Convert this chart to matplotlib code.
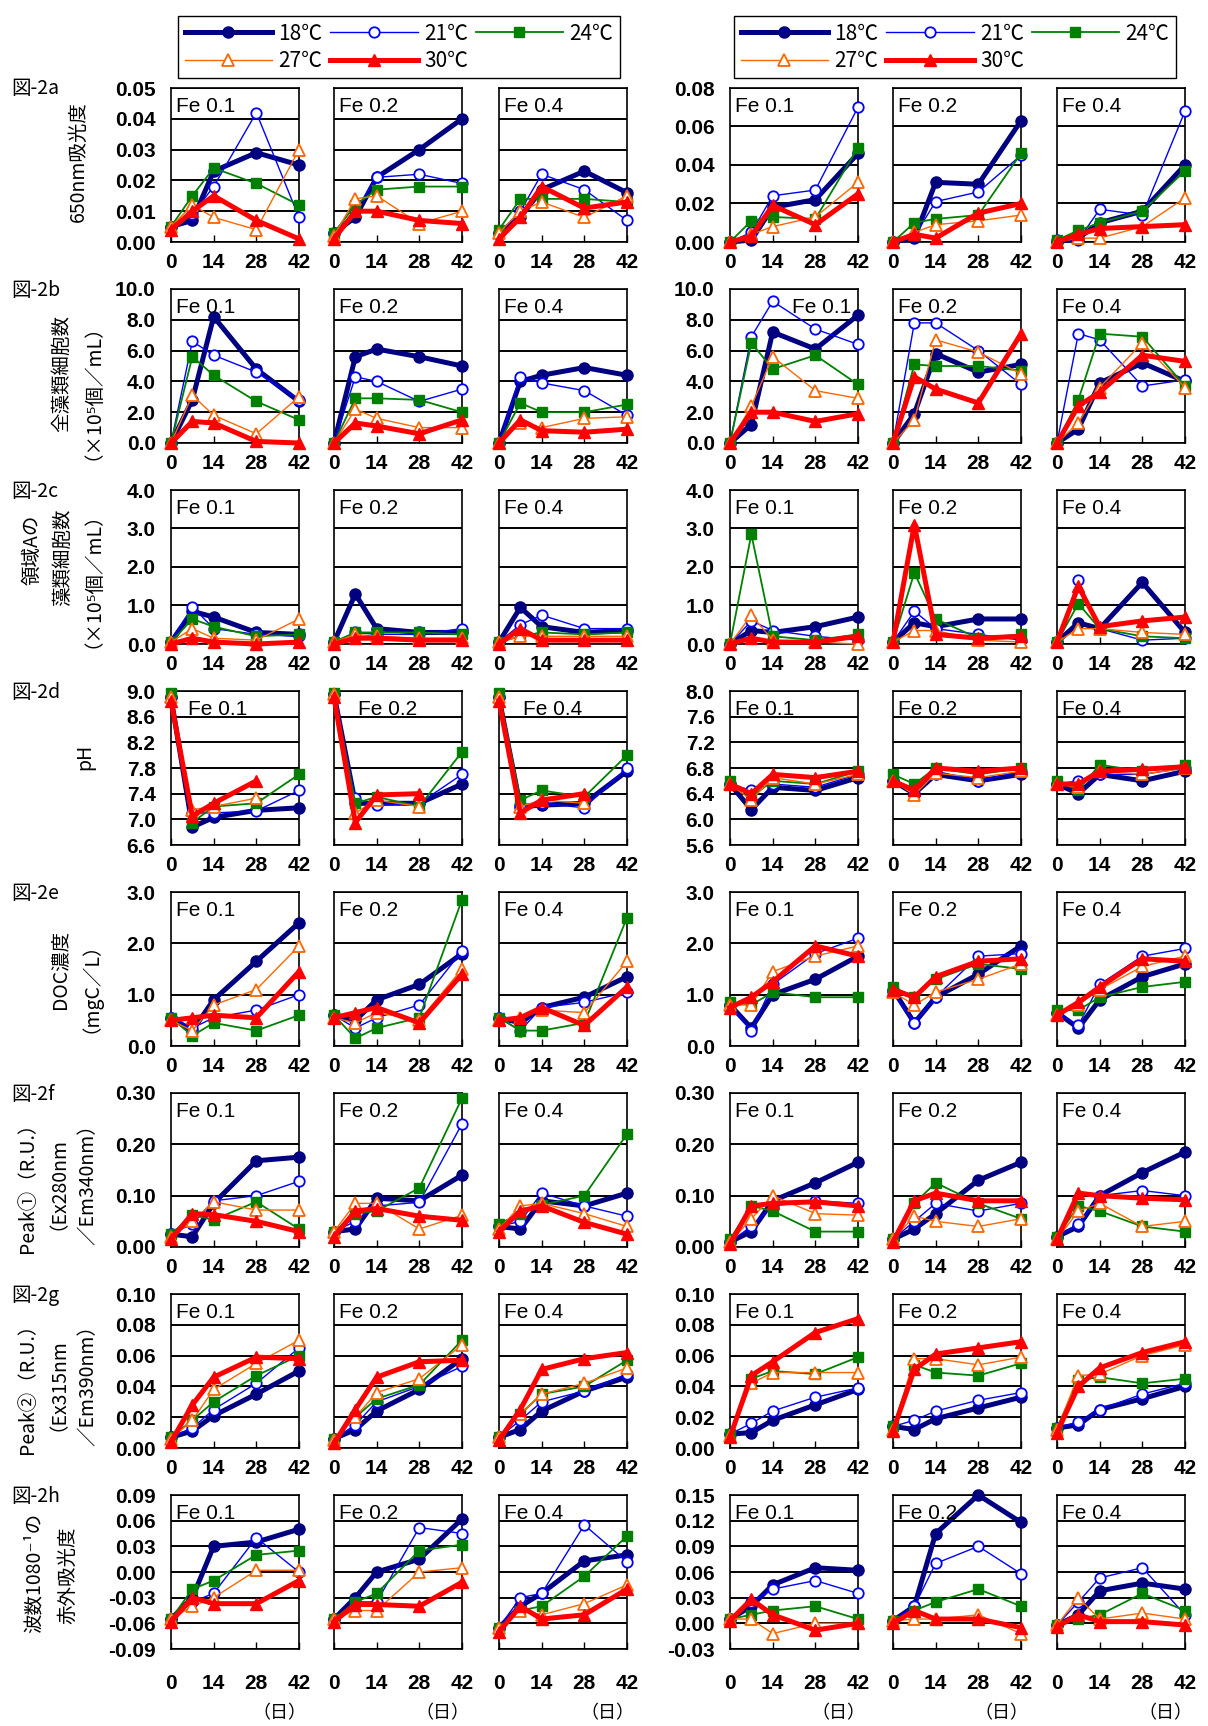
import matplotlib
matplotlib.use("Agg")
import matplotlib.pyplot as plt
from matplotlib.lines import Line2D
import numpy as np

plt.rcParams['font.family'] = ['Liberation Sans Narrow', 'Liberation Sans', 'DejaVu Sans']
JP = ['Noto Sans CJK JP', 'DejaVu Sans']

nan = np.nan
days = [0, 7, 14, 28, 42]
temps = ["18℃", "21℃", "24℃", "27℃", "30℃"]
fe_names = ["Fe 0.1", "Fe 0.2", "Fe 0.4"]

# each panel: rows = 18, 21, 24, 27, 30 C ; columns = days
# 図-2a 650nm absorbance
a_l01 = [[0.005, 0.007, 0.023, 0.029, 0.025], [0.005, 0.009, 0.018, 0.042, 0.008],
         [0.005, 0.015, 0.024, 0.019, 0.012], [0.005, 0.012, 0.008, 0.004, 0.030],
         [0.004, 0.010, 0.015, 0.007, 0.001]]
a_l02 = [[0.003, 0.008, 0.021, 0.030, 0.040], [0.003, 0.010, 0.021, 0.022, 0.019],
         [0.003, 0.012, 0.017, 0.018, 0.018], [0.002, 0.014, 0.015, 0.006, 0.010],
         [0.001, 0.010, 0.010, 0.007, 0.006]]
a_l04 = [[0.003, 0.008, 0.017, 0.023, 0.016], [0.003, 0.010, 0.022, 0.017, 0.007],
         [0.004, 0.014, 0.014, 0.014, 0.013], [0.003, 0.010, 0.013, 0.008, 0.015],
         [0.001, 0.008, 0.018, 0.011, 0.013]]
a_r01 = [[0.000, 0.001, 0.018, 0.022, 0.046], [0.000, 0.005, 0.024, 0.027, 0.070],
         [0.000, 0.011, 0.013, 0.012, 0.049], [0.000, 0.004, 0.008, 0.013, 0.031],
         [0.000, 0.003, 0.019, 0.009, 0.025]]
a_r02 = [[0.000, 0.002, 0.031, 0.030, 0.063], [0.000, 0.003, 0.021, 0.026, 0.045],
         [0.000, 0.010, 0.012, 0.014, 0.046], [0.000, 0.005, 0.009, 0.011, 0.014],
         [0.000, 0.004, 0.002, 0.015, 0.020]]
a_r04 = [[0.000, 0.002, 0.010, 0.016, 0.040], [0.001, 0.001, 0.017, 0.014, 0.068],
         [0.001, 0.006, 0.010, 0.016, 0.037], [0.000, 0.002, 0.002, 0.008, 0.023],
         [0.000, 0.004, 0.007, 0.008, 0.009]]

# 図-2b total algal cells
b_l01 = [[0, 2.8, 8.2, 4.8, 2.7], [0, 6.6, 5.7, 4.6, 2.8], [0, 5.6, 4.4, 2.7, 1.5],
         [0, 3.1, 1.8, 0.6, 3.0], [0, 1.4, 1.3, 0.1, 0.0]]
b_l02 = [[0, 5.6, 6.1, 5.6, 5.0], [0, 4.3, 4.0, 2.7, 3.5], [0, 2.9, 2.9, 2.8, 2.0],
         [0, 2.2, 1.6, 1.0, 1.0], [0, 1.3, 1.1, 0.6, 1.5]]
b_l04 = [[0, 4.0, 4.4, 4.9, 4.4], [0, 4.3, 3.9, 3.4, 1.8], [0, 2.6, 2.0, 2.0, 2.5],
         [0, 1.3, 1.0, 1.6, 1.7], [0, 1.5, 0.8, 0.7, 0.9]]
b_r01 = [[0, 1.2, 7.2, 6.1, 8.3], [0, 6.9, 9.2, 7.4, 6.4], [0, 6.5, 4.8, 5.7, 3.8],
         [0, 2.4, 5.6, 3.4, 2.9], [0, 2.0, 2.0, 1.4, 1.9]]
b_r02 = [[0, 1.9, 5.8, 4.6, 5.1], [0, 7.8, 7.8, 6.0, 3.8], [0, 5.1, 5.0, 5.0, 4.7],
         [0, 1.5, 6.7, 5.9, 4.5], [0, 4.3, 3.5, 2.6, 7.1]]
b_r04 = [[0, 0.9, 3.9, 5.2, 4.0], [0, 7.1, 6.7, 3.7, 4.1], [0, 2.8, 7.1, 6.9, 3.7],
         [0, 1.3, 3.6, 6.5, 3.6], [0, 2.4, 3.3, 5.7, 5.3]]

# 図-2c region A algal cells
c_l01 = [[0.05, 0.85, 0.7, 0.3, 0.25], [0.05, 0.97, 0.4, 0.25, 0.2], [0.05, 0.65, 0.45, 0.2, 0.25],
         [0.05, 0.4, 0.15, 0.1, 0.65], [0.0, 0.15, 0.05, 0.0, 0.05]]
c_l02 = [[0.05, 1.3, 0.4, 0.3, 0.3], [0.05, 0.3, 0.25, 0.25, 0.4], [0.05, 0.3, 0.3, 0.3, 0.25],
         [0.05, 0.25, 0.2, 0.15, 0.15], [0.0, 0.15, 0.15, 0.1, 0.1]]
c_l04 = [[0.05, 0.95, 0.45, 0.3, 0.35], [0.05, 0.5, 0.75, 0.4, 0.4], [0.05, 0.2, 0.3, 0.25, 0.3],
         [0.05, 0.2, 0.2, 0.2, 0.2], [0.0, 0.4, 0.1, 0.1, 0.1]]
c_r01 = [[0.0, 0.35, 0.3, 0.45, 0.7], [0.0, 0.6, 0.35, 0.2, 0.1], [0.0, 2.85, 0.2, 0.1, 0.25],
         [0.0, 0.75, 0.1, 0.05, 0.0], [0.0, 0.15, 0.05, 0.05, 0.2]]
c_r02 = [[0.05, 0.55, 0.45, 0.65, 0.65], [0.05, 0.85, 0.4, 0.25, 0.1], [0.05, 1.85, 0.65, 0.15, 0.25],
         [0.05, 0.35, 0.35, 0.1, 0.05], [0.05, 3.1, 0.25, 0.15, 0.2]]
c_r04 = [[0.05, 0.55, 0.4, 1.6, 0.3], [0.05, 1.65, 0.4, 0.1, 0.15], [0.05, 1.05, 0.4, 0.2, 0.15],
         [0.05, 0.4, 0.4, 0.3, 0.25], [0.05, 1.5, 0.45, 0.6, 0.7]]

# 図-2d pH
d_l01 = [[8.9, 6.88, 7.03, 7.14, 7.18], [8.9, 7.1, 7.1, 7.13, 7.45], [8.97, 6.95, 7.2, 7.25, 7.7],
         [8.9, 7.15, 7.2, 7.33, nan], [8.85, 7.05, 7.25, 7.6, nan]]
d_l02 = [[8.95, 7.25, 7.25, 7.25, 7.55], [8.95, 7.33, 7.22, 7.25, 7.7], [8.97, 7.25, 7.35, 7.2, 8.05],
         [8.95, 7.1, 7.3, 7.2, nan], [8.9, 6.95, 7.38, 7.4, nan]]
d_l04 = [[8.9, 7.2, 7.22, 7.25, 7.75], [8.9, 7.22, 7.25, 7.18, 7.8], [8.97, 7.3, 7.45, 7.35, 8.0],
         [8.9, 7.2, 7.3, 7.25, nan], [8.85, 7.1, 7.3, 7.4, nan]]
d_r01 = [[6.55, 6.15, 6.5, 6.45, 6.65], [6.55, 6.45, 6.55, 6.5, 6.7], [6.6, 6.35, 6.6, 6.55, 6.75],
         [6.55, 6.3, 6.65, 6.55, 6.7], [6.55, 6.4, 6.7, 6.65, 6.75]]
d_r02 = [[6.6, 6.4, 6.7, 6.6, 6.7], [6.6, 6.4, 6.75, 6.6, 6.75], [6.7, 6.55, 6.8, 6.7, 6.8],
         [6.6, 6.38, 6.72, 6.65, 6.75], [6.6, 6.45, 6.8, 6.75, 6.8]]
d_r04 = [[6.55, 6.4, 6.7, 6.6, 6.75], [6.55, 6.6, 6.7, 6.7, 6.8], [6.6, 6.45, 6.85, 6.75, 6.85],
         [6.55, 6.5, 6.75, 6.7, 6.8], [6.55, 6.55, 6.75, 6.78, 6.82]]

# 図-2e DOC
e_l01 = [[0.55, 0.3, 0.9, 1.65, 2.4], [0.55, 0.35, 0.55, 0.7, 1.0], [0.55, 0.2, 0.45, 0.3, 0.6],
         [0.5, 0.3, 0.8, 1.1, 1.95], [0.5, 0.55, 0.6, 0.55, 1.45]]
e_l02 = [[0.6, 0.5, 0.9, 1.2, 1.8], [0.6, 0.35, 0.55, 0.8, 1.85], [0.6, 0.15, 0.35, 0.55, 2.85],
         [0.55, 0.45, 0.65, 0.5, 1.5], [0.55, 0.65, 0.75, 0.45, 1.4]]
e_l04 = [[0.55, 0.45, 0.75, 0.95, 1.35], [0.55, 0.3, 0.75, 0.85, 1.05], [0.55, 0.3, 0.3, 0.45, 2.5],
         [0.5, 0.55, 0.7, 0.65, 1.65], [0.5, 0.55, 0.75, 0.4, 1.15]]
e_r01 = [[0.8, 0.35, 1.0, 1.3, 1.75], [0.8, 0.3, 1.2, 1.8, 2.1], [0.85, 0.8, 1.05, 0.95, 0.95],
         [0.8, 0.8, 1.45, 1.75, 1.95], [0.75, 0.95, 1.25, 1.95, 1.75]]
e_r02 = [[1.1, 0.45, 0.95, 1.4, 1.95], [1.05, 0.45, 0.95, 1.75, 1.8], [1.15, 0.95, 1.3, 1.6, 1.5],
         [1.05, 0.8, 1.05, 1.3, 1.6], [1.1, 0.95, 1.35, 1.65, 1.7]]
e_r04 = [[0.65, 0.35, 0.9, 1.35, 1.6], [0.65, 0.4, 1.2, 1.75, 1.9], [0.7, 0.7, 0.95, 1.15, 1.25],
         [0.6, 0.8, 1.1, 1.55, 1.75], [0.6, 0.85, 1.15, 1.7, 1.65]]

# 図-2f Peak1
f_l01 = [[0.025, 0.02, 0.085, 0.168, 0.175], [0.025, 0.045, 0.09, 0.1, 0.128],
         [0.025, 0.062, 0.053, 0.088, 0.035], [0.02, 0.05, 0.088, 0.072, 0.072],
         [0.015, 0.065, 0.063, 0.05, 0.03]]
f_l02 = [[0.03, 0.035, 0.095, 0.09, 0.14], [0.03, 0.05, 0.08, 0.087, 0.24],
         [0.03, 0.065, 0.07, 0.115, 0.29], [0.03, 0.085, 0.085, 0.035, 0.062],
         [0.02, 0.07, 0.075, 0.06, 0.052]]
f_l04 = [[0.04, 0.035, 0.09, 0.08, 0.105], [0.04, 0.05, 0.105, 0.08, 0.06],
         [0.045, 0.065, 0.082, 0.1, 0.22], [0.035, 0.08, 0.085, 0.065, 0.04],
         [0.03, 0.07, 0.08, 0.048, 0.025]]
f_r01 = [[0.01, 0.03, 0.09, 0.125, 0.165], [0.01, 0.04, 0.08, 0.09, 0.085],
         [0.015, 0.08, 0.07, 0.03, 0.03], [0.01, 0.055, 0.1, 0.065, 0.062],
         [0.005, 0.08, 0.085, 0.088, 0.08]]
f_r02 = [[0.015, 0.035, 0.065, 0.13, 0.165], [0.015, 0.05, 0.085, 0.07, 0.085],
         [0.015, 0.085, 0.125, 0.085, 0.055], [0.015, 0.06, 0.05, 0.04, 0.055],
         [0.01, 0.09, 0.105, 0.09, 0.09]]
f_r04 = [[0.02, 0.04, 0.1, 0.145, 0.185], [0.02, 0.045, 0.1, 0.11, 0.1],
         [0.02, 0.08, 0.07, 0.04, 0.03], [0.015, 0.07, 0.085, 0.04, 0.05],
         [0.015, 0.105, 0.1, 0.095, 0.092]]

# 図-2g Peak2
g_l01 = [[0.007, 0.011, 0.021, 0.035, 0.050], [0.007, 0.013, 0.025, 0.042, 0.065],
         [0.007, 0.018, 0.030, 0.047, 0.060], [0.006, 0.018, 0.038, 0.055, 0.070],
         [0.004, 0.028, 0.046, 0.059, 0.058]]
g_l02 = [[0.006, 0.012, 0.024, 0.038, 0.058], [0.006, 0.015, 0.030, 0.040, 0.053],
         [0.006, 0.020, 0.032, 0.041, 0.070], [0.005, 0.020, 0.036, 0.045, 0.067],
         [0.003, 0.025, 0.046, 0.056, 0.057]]
g_l04 = [[0.007, 0.012, 0.024, 0.037, 0.046], [0.007, 0.018, 0.030, 0.037, 0.048],
         [0.007, 0.022, 0.035, 0.040, 0.057], [0.007, 0.022, 0.035, 0.042, 0.052],
         [0.005, 0.025, 0.051, 0.058, 0.062]]
g_r01 = [[0.009, 0.010, 0.018, 0.028, 0.038], [0.009, 0.016, 0.024, 0.033, 0.039],
         [0.009, 0.045, 0.050, 0.048, 0.059], [0.008, 0.042, 0.049, 0.049, 0.049],
         [0.007, 0.047, 0.056, 0.075, 0.084]]
g_r02 = [[0.014, 0.012, 0.019, 0.026, 0.033], [0.014, 0.018, 0.024, 0.031, 0.036],
         [0.014, 0.054, 0.049, 0.047, 0.055], [0.012, 0.058, 0.058, 0.054, 0.059],
         [0.011, 0.051, 0.061, 0.065, 0.069]]
g_r04 = [[0.013, 0.015, 0.025, 0.032, 0.040], [0.013, 0.017, 0.025, 0.035, 0.042],
         [0.013, 0.044, 0.046, 0.042, 0.045], [0.012, 0.047, 0.048, 0.060, 0.067],
         [0.010, 0.040, 0.052, 0.062, 0.069]]

# 図-2h IR absorbance 1080
h_l01 = [[-0.055, -0.030, 0.030, 0.035, 0.050], [-0.055, -0.035, -0.025, 0.040, 0.000],
         [-0.055, -0.020, -0.010, 0.020, 0.025], [-0.055, -0.040, -0.030, 0.002, 0.002],
         [-0.058, -0.030, -0.037, -0.037, -0.010]]
h_l02 = [[-0.055, -0.030, 0.000, 0.015, 0.062], [-0.055, -0.035, -0.035, 0.052, 0.045],
         [-0.055, -0.035, -0.025, 0.025, 0.032], [-0.055, -0.045, -0.045, 0.000, 0.005],
         [-0.058, -0.038, -0.038, -0.040, -0.012]]
h_l04 = [[-0.065, -0.040, -0.025, 0.013, 0.020], [-0.065, -0.030, -0.025, 0.055, 0.012],
         [-0.065, -0.045, -0.040, -0.005, 0.042], [-0.065, -0.045, -0.050, -0.037, -0.015],
         [-0.070, -0.040, -0.055, -0.050, -0.020]]
h_r01 = [[0.005, 0.020, 0.045, 0.065, 0.062], [0.005, 0.025, 0.040, 0.050, 0.035],
         [0.005, 0.010, 0.015, 0.020, 0.005], [0.005, 0.005, -0.012, 0.000, 0.000],
         [0.003, 0.028, 0.010, -0.008, 0.000]]
h_r02 = [[0.003, 0.020, 0.105, 0.150, 0.118], [0.003, 0.020, 0.070, 0.090, 0.058],
         [0.003, 0.015, 0.025, 0.040, 0.020], [0.003, 0.005, 0.005, 0.010, -0.012],
         [0.000, 0.015, 0.005, 0.005, -0.005]]
h_r04 = [[-0.002, 0.010, 0.038, 0.047, 0.040], [-0.002, 0.025, 0.053, 0.065, 0.010],
         [-0.002, 0.005, 0.010, 0.035, 0.015], [-0.002, 0.030, 0.005, 0.012, 0.005],
         [-0.004, 0.010, 0.002, 0.002, -0.002]]

row_tags = ["図-2a", "図-2b", "図-2c", "図-2d", "図-2e", "図-2f", "図-2g", "図-2h"]
# y-axis titles, one entry per text column
row_ylabels = [["650nm吸光度"],
               ["全藻類細胞数", "（×10⁵個／mL）"],
               ["領域Aの", "藻類細胞数", "（×10⁵個／mL）"],
               ["pH"],
               ["DOC濃度", "（mgC／L）"],
               ["Peak①（R.U.）", "（Ex280nm", "／Em340nm）"],
               ["Peak②（R.U.）", "（Ex315nm", "／Em390nm）"],
               ["波数1080⁻¹の", "赤外吸光度"]]
ylabel_x = [[77], [60, 92], [30, 61, 92], [83], [58, 90], [26, 58, 86], [26, 58, 86], [33, 66]]
ylabel_dy = [[74], [84, 93], [60, 67, 80], [66], [77, 86], [90, 86, 87], [90, 86, 87], [78, 80]]

# (ymin, ymax, step, decimals) for left and right groups
left_axes = [(0, 0.05, 0.01, 2), (0, 10, 2, 1), (0, 4, 1, 1), (6.6, 9.0, 0.4, 1),
             (0, 3, 1, 1), (0, 0.30, 0.10, 2), (0, 0.10, 0.02, 2), (-0.09, 0.09, 0.03, 2)]
right_axes = [(0, 0.08, 0.02, 2), (0, 10, 2, 1), (0, 4, 1, 1), (5.6, 8.0, 0.4, 1),
              (0, 3, 1, 1), (0, 0.30, 0.10, 2), (0, 0.10, 0.02, 2), (-0.03, 0.15, 0.03, 2)]

panels = [[a_l01, a_l02, a_l04, a_r01, a_r02, a_r04],
          [b_l01, b_l02, b_l04, b_r01, b_r02, b_r04],
          [c_l01, c_l02, c_l04, c_r01, c_r02, c_r04],
          [d_l01, d_l02, d_l04, d_r01, d_r02, d_r04],
          [e_l01, e_l02, e_l04, e_r01, e_r02, e_r04],
          [f_l01, f_l02, f_l04, f_r01, f_r02, f_r04],
          [g_l01, g_l02, g_l04, g_r01, g_r02, g_r04],
          [h_l01, h_l02, h_l04, h_r01, h_r02, h_r04]]

styles = [
    dict(color='#000080', lw=3.6, marker='o', ms=8, mfc='#000080', mec='#000080'),
    dict(color='#0000FF', lw=1.0, marker='o', ms=7.5, mfc='white', mec='#0000FF', mew=1.3),
    dict(color='#008000', lw=1.3, marker='s', ms=7, mfc='#008000', mec='#008000'),
    dict(color='#FF6600', lw=1.0, marker='^', ms=8, mfc='white', mec='#FF6600', mew=1.3),
    dict(color='#FF0000', lw=3.6, marker='^', ms=9, mfc='#FF0000', mec='#FF0000'),
]

W, H = 1208, 1726
fig = plt.figure(figsize=(W / 100, H / 100), dpi=100)

lefts = [171, 334, 499, 730, 893, 1057]
pw, ph = 128, 154
tick_font = dict(fontsize=15, fontweight='bold')
ylab_size = 14
em = ylab_size * 100 / 72
# rotated titles are anchored on their baseline; glyphs sit left of it
base_shift = 0.37 * em
# a leading full-width bracket pushes the rotated text sideways, pull it back
paren_shift = 0.57 * em

for r in range(8):
    top = 88 + 201 * r
    for k in range(6):
        ax = fig.add_axes([lefts[k] / W, 1 - (top + ph) / H, pw / W, ph / H])
        ax.set_axisbelow(True)
        for s in range(5):
            ax.plot(days, panels[r][k][s], clip_on=False, zorder=3 + s, **styles[s])
        lo, hi, step, dec = left_axes[r] if k < 3 else right_axes[r]
        ticks = np.round(np.arange(lo, hi + step / 2, step), 4)
        ax.set_ylim(lo, hi)
        ax.set_xlim(0, 42)
        ax.set_yticks(ticks)
        if k in (0, 3):
            ax.set_yticklabels([f"{t:.{dec}f}" for t in ticks], **tick_font)
        else:
            ax.set_yticklabels([])
        ax.set_xticks([0, 14, 28, 42])
        ax.set_xticklabels(["0", "14", "28", "42"], **tick_font)
        ax.grid(axis='y', color='black', lw=1.4)
        ax.tick_params(axis='y', length=0, pad=11)
        xpad = 18 if r == 7 else 8
        ax.tick_params(axis='x', direction='in', length=5, width=1, pad=xpad)
        for sp in ax.spines.values():
            sp.set_linewidth(1.2)
        # Fe label
        if r == 1 and k == 3:
            ax.text(0.95, 0.94, fe_names[k % 3], transform=ax.transAxes,
                    ha='right', va='top', fontsize=15)
        elif r == 3 and k < 3:
            ax.text([0.13, 0.19, 0.19][k], 0.94, fe_names[k % 3], transform=ax.transAxes,
                    ha='left', va='top', fontsize=15)
        else:
            ax.text(0.04, 0.94, fe_names[k % 3], transform=ax.transAxes,
                    ha='left', va='top', fontsize=15)
        if r == 7:
            fig.text((lefts[k] + pw - 20) / W, 1 - 1713 / H, "（日）",
                     family=JP, fontsize=13, ha='center', va='center')

    # row tag and y-axis title columns
    fig.text(11 / W, 1 - (top + 1) / H, row_tags[r], family=JP, fontsize=14,
             ha='left', va='center')
    for txt, xc, dy in zip(row_ylabels[r], ylabel_x[r], ylabel_dy[r]):
        x = xc + base_shift
        if txt.startswith("（"):
            x -= paren_shift
        fig.text(x / W, 1 - (top + dy) / H, txt, family=JP,
                 fontsize=ylab_size, rotation=90, rotation_mode='anchor',
                 ha='center', va='baseline')

# legends
handles = [Line2D([], [], **st) for st in styles]
order = [0, 3, 1, 4, 2]
for x0 in (168, 724):
    leg = fig.legend([handles[i] for i in order], [temps[i] for i in order],
                     loc='upper left', bbox_to_anchor=(x0 / W, 1 - 6 / H, 462 / W, 0),
                     mode='expand', ncol=3, handlelength=4.2, fancybox=False,
                     edgecolor='black', framealpha=1, borderpad=0.3, labelspacing=0.25,
                     prop=dict(family=JP, size=15), handletextpad=0.3)
    leg.get_frame().set_linewidth(1.0)

fig.savefig("out.png", dpi=100)
